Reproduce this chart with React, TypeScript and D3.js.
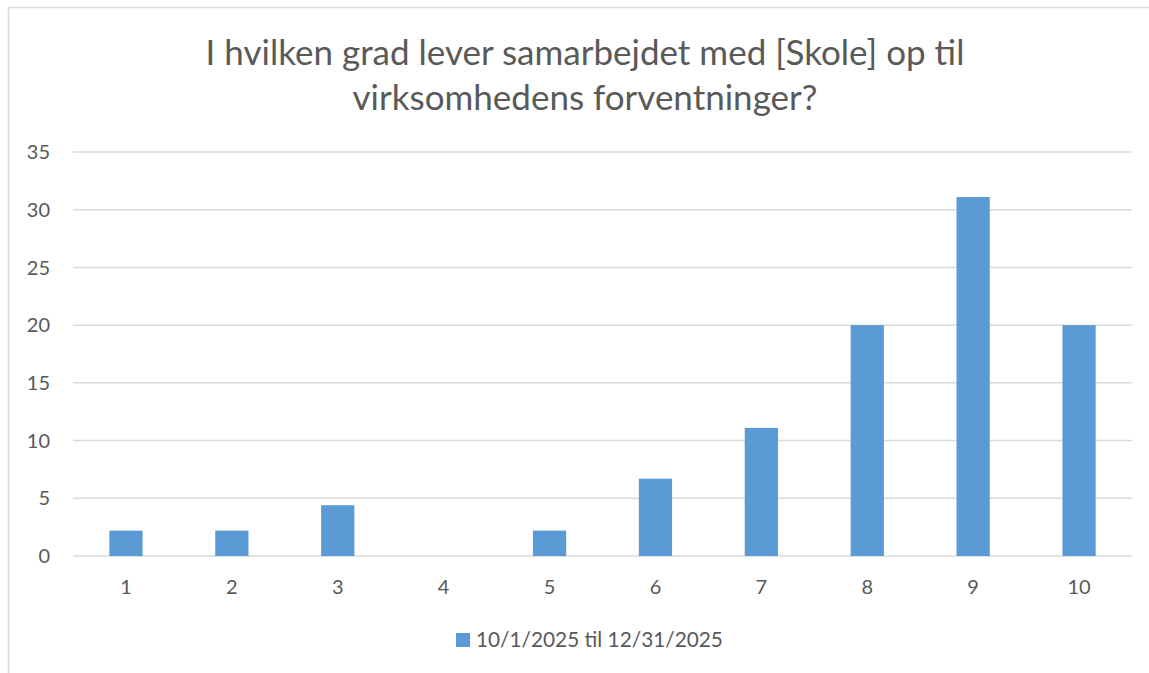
import React, { useEffect, useRef } from 'react';
import * as d3 from 'd3';

const categories = ['1', '2', '3', '4', '5', '6', '7', '8', '9', '10'];
const values = [2.2, 2.2, 4.4, 0, 2.2, 6.7, 11.1, 20, 31.1, 20];
const yTicks = [0, 5, 10, 15, 20, 25, 30, 35];
const titleLines = ['I hvilken grad lever samarbejdet med [Skole] op til', 'virksomhedens forventninger?'];
const seriesName = '10/1/2025 til 12/31/2025';

const App: React.FC = () => {
  const svgRef = useRef<SVGSVGElement>(null);
  const width = 1149;
  const height = 673;

  useEffect(() => {
    if (!svgRef.current) return;
    const svg = d3.select(svgRef.current);
    svg.selectAll('*').remove();

    const font = "Lato, 'Open Sans', sans-serif";
    const textColor = '#595959';
    const gridColor = '#d9d9d9';
    const barColor = '#5b9bd5';

    // chart frame (only left and top edges fall inside the picture)
    svg.append('rect')
      .attr('x', 8.5)
      .attr('y', 7.5)
      .attr('width', width + 20)
      .attr('height', height + 20)
      .attr('fill', '#fff')
      .attr('stroke', gridColor)
      .attr('stroke-width', 1.5);

    const margin = { top: 152, right: 17, bottom: 117, left: 73 };
    const innerWidth = width - margin.left - margin.right;
    const innerHeight = height - margin.top - margin.bottom;

    const g = svg.append('g')
      .attr('transform', `translate(${margin.left},${margin.top})`);

    const x = d3.scaleBand()
      .domain(categories)
      .range([0, innerWidth])
      .paddingInner(0.686)
      .paddingOuter(0.343);

    const y = d3.scaleLinear()
      .domain([0, 35])
      .range([innerHeight, 0]);

    // gridlines
    g.selectAll('line.grid')
      .data(yTicks)
      .enter()
      .append('line')
      .attr('class', 'grid')
      .attr('x1', 0)
      .attr('x2', innerWidth)
      .attr('y1', d => y(d))
      .attr('y2', d => y(d))
      .attr('stroke', gridColor)
      .attr('stroke-width', 1.5);

    // y labels
    g.selectAll('text.ylab')
      .data(yTicks)
      .enter()
      .append('text')
      .attr('class', 'ylab')
      .attr('x', -23)
      .attr('y', d => y(d))
      .attr('dy', '0.36em')
      .attr('text-anchor', 'end')
      .attr('font-family', font)
      .attr('font-size', '20px')
      .attr('fill', textColor)
      .text(d => d);

    // bars
    g.selectAll('rect.bar')
      .data(values)
      .enter()
      .append('rect')
      .attr('class', 'bar')
      .attr('x', (d, i) => x(categories[i])!)
      .attr('y', d => y(d))
      .attr('width', x.bandwidth())
      .attr('height', d => innerHeight - y(d))
      .attr('fill', barColor);

    // x labels
    g.selectAll('text.xlab')
      .data(categories)
      .enter()
      .append('text')
      .attr('class', 'xlab')
      .attr('x', d => x(d)! + x.bandwidth() / 2)
      .attr('y', innerHeight + 38)
      .attr('text-anchor', 'middle')
      .attr('font-family', font)
      .attr('font-size', '20px')
      .attr('fill', textColor)
      .text(d => d);

    // title
    svg.selectAll('text.title')
      .data(titleLines)
      .enter()
      .append('text')
      .attr('class', 'title')
      .attr('x', 585)
      .attr('y', (d, i) => 65 + i * 45)
      .attr('text-anchor', 'middle')
      .attr('font-family', font)
      .attr('font-size', '35px')
      .attr('fill', textColor)
      .text(d => d);

    // legend
    svg.append('rect')
      .attr('x', 456)
      .attr('y', 633)
      .attr('width', 14)
      .attr('height', 14)
      .attr('fill', barColor);

    svg.append('text')
      .attr('x', 476)
      .attr('y', 647)
      .attr('font-family', font)
      .attr('font-size', '20.8px')
      .attr('fill', textColor)
      .text(seriesName);
  }, []);

  return (
    <svg
      ref={svgRef}
      width={width}
      height={height}
      style={{ position: 'absolute', left: 0, top: 0, background: '#fff' }}
    />
  );
};

export default App;
